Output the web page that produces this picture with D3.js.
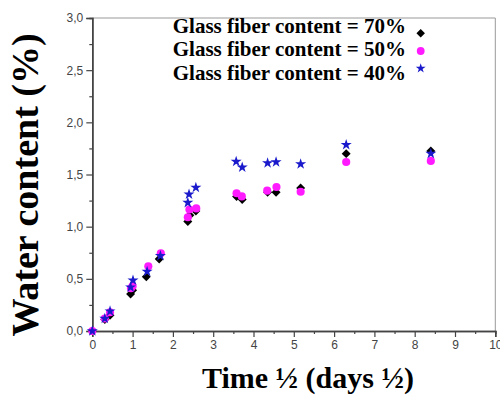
<!DOCTYPE html>
<html><head><meta charset="utf-8">
<script src="https://cdn.jsdelivr.net/npm/d3@7"></script>
<style>body{margin:0;background:#fff}svg{display:block}</style>
</head><body>
<svg id="c" width="500" height="396"></svg>
<script>
const seriesNames = ["Glass fiber content = 70%", "Glass fiber content = 50%", "Glass fiber content = 40%"];
const x70 = [0, 0.31, 0.44, 0.95, 1.0, 1.34, 1.66, 2.37, 2.42, 2.57, 3.58, 3.72, 4.35, 4.56, 5.17, 6.30, 8.40];
const y70 = [0, 0.11, 0.15, 0.355, 0.39, 0.52, 0.69, 1.05, 1.11, 1.15, 1.29, 1.26, 1.33, 1.33, 1.37, 1.70, 1.725];
const x50 = [0, 0.31, 0.44, 0.96, 1.0, 1.39, 1.70, 2.37, 2.41, 2.58, 3.58, 3.71, 4.34, 4.57, 5.17, 6.30, 8.40];
const y50 = [0, 0.12, 0.18, 0.41, 0.43, 0.62, 0.745, 1.09, 1.165, 1.175, 1.32, 1.29, 1.345, 1.38, 1.335, 1.62, 1.63];
const x40 = [0, 0.31, 0.44, 0.95, 1.01, 1.36, 1.69, 2.37, 2.40, 2.57, 3.57, 3.72, 4.35, 4.56, 5.17, 6.30, 8.40];
const y40 = [0, 0.12, 0.19, 0.42, 0.485, 0.57, 0.72, 1.23, 1.31, 1.375, 1.625, 1.57, 1.61, 1.62, 1.60, 1.785, 1.70];
const xTicks = [0,1,2,3,4,5,6,7,8,9,10];
const yTicks = [0,0.5,1.0,1.5,2.0,2.5,3.0];
const xTitle = "Time ½ (days ½)";
const yTitle = "Water content (%)";

const svg = d3.select("#c");
const L = 92.3, R = 495.3, T = 18, B = 331;
const x = d3.scaleLinear().domain([0,10]).range([L,R]);
const y = d3.scaleLinear().domain([0,3]).range([B,T]);
const fmt = v => d3.format(".1f")(v).replace(".", ",");

// frame
svg.append("line").attr("x1",L).attr("x2",R).attr("y1",T).attr("y2",T).attr("stroke","#999").attr("stroke-width",1);
svg.append("line").attr("x1",R).attr("x2",R).attr("y1",T).attr("y2",B).attr("stroke","#999").attr("stroke-width",1);

// axes
const gx = svg.append("g").attr("transform",`translate(0,${B})`)
  .call(d3.axisBottom(x).tickValues(xTicks).tickFormat(d3.format("d")).tickSize(6).tickPadding(3));
const gxm = svg.append("g").attr("transform",`translate(0,${B})`)
  .call(d3.axisBottom(x).tickValues(d3.range(0.5,10,1)).tickFormat("").tickSize(3));
const gy = svg.append("g").attr("transform",`translate(${L},0)`)
  .call(d3.axisLeft(y).tickValues(yTicks).tickFormat(fmt).tickSize(6).tickPadding(3));
const gym = svg.append("g").attr("transform",`translate(${L},0)`)
  .call(d3.axisLeft(y).tickValues(d3.range(0.25,3,0.5)).tickFormat("").tickSize(3));
[gx,gxm,gy,gym].forEach(g=>{
  g.select(".domain").attr("stroke","#444").attr("stroke-width",1.5);
  g.selectAll(".tick line").attr("stroke","#444").attr("stroke-width",1.2);
  g.selectAll(".tick text").attr("fill","#444").attr("font-family","Liberation Sans, Arial, sans-serif").attr("font-size",12);
});

// data
const clip = svg.append("g");
const sq = d3.symbol().type(d3.symbolSquare).size(40);
const ci = d3.symbol().type(d3.symbolCircle).size(52);
const st = d3.symbol().type(d3.symbolStar).size(38);
clip.selectAll(".s70").data(x70.map((v,i)=>[v,y70[i]])).join("path")
  .attr("d",sq).attr("fill","#000")
  .attr("transform",d=>`translate(${x(d[0])},${y(d[1])}) rotate(45)`);
clip.selectAll(".s50").data(x50.map((v,i)=>[v,y50[i]])).join("path")
  .attr("d",ci).attr("fill","#ff1aff")
  .attr("transform",d=>`translate(${x(d[0])},${y(d[1])})`);
clip.selectAll(".s40").data(x40.map((v,i)=>[v,y40[i]])).join("path")
  .attr("d",st).attr("fill","#1a1acc")
  .attr("transform",d=>`translate(${x(d[0])},${y(d[1])})`);

// legend
const lg = svg.append("g");
const legY = [32.5, 56, 79.5];
const legMY = [33.3, 51, 68.3];
seriesNames.forEach((n,i)=>{
  lg.append("text").attr("x",406).attr("y",legY[i]).attr("text-anchor","end")
    .attr("font-family","Liberation Serif, Times New Roman, serif").attr("font-weight","bold")
    .attr("font-size",21).attr("fill","#000").text(n);
});
lg.append("path").attr("d",d3.symbol().type(d3.symbolSquare).size(36)).attr("fill","#000")
  .attr("transform",`translate(420.7,${legMY[0]}) rotate(45)`);
lg.append("path").attr("d",d3.symbol().type(d3.symbolCircle).size(48)).attr("fill","#ff1aff")
  .attr("transform",`translate(420.7,${legMY[1]})`);
lg.append("path").attr("d",d3.symbol().type(d3.symbolStar).size(30)).attr("fill","#1a1acc")
  .attr("transform",`translate(420.7,${legMY[2]})`);

// titles
svg.append("text").attr("x",308).attr("y",388).attr("text-anchor","middle")
  .attr("font-family","Liberation Serif, Times New Roman, serif").attr("font-weight","bold")
  .attr("font-size",30).attr("fill","#000").text(xTitle);
svg.append("text").attr("transform","translate(38,185) rotate(-90)").attr("text-anchor","middle")
  .attr("font-family","Liberation Serif, Times New Roman, serif").attr("font-weight","bold")
  .attr("font-size",38).attr("fill","#000").text(yTitle);
</script>
</body></html>
